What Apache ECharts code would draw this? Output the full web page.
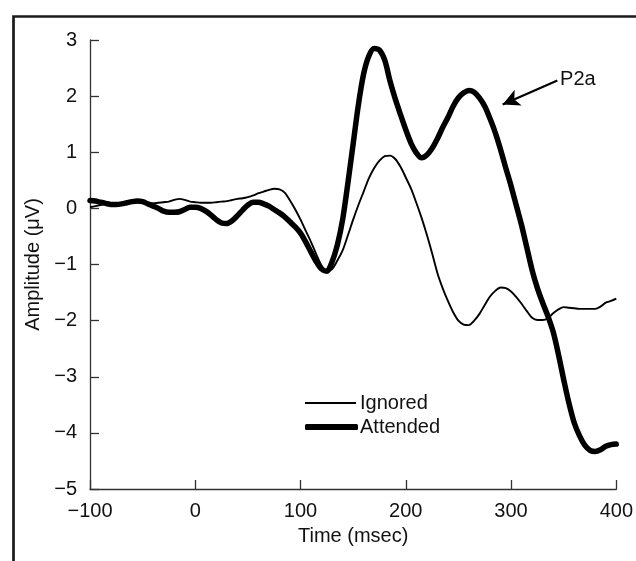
<!DOCTYPE html>
<html>
<head>
<meta charset="utf-8">
<script src="https://cdn.jsdelivr.net/npm/echarts@6/dist/echarts.min.js"></script>
<style>
html,body{margin:0;padding:0;background:#fff;}
#chart{width:636px;height:561px;}
</style>
</head>
<body>
<div id="chart"></div>
<script>
var times = [-100,-95,-90,-85,-80,-75,-70,-65,-60,-55,-50,-45,-40,-35,-30,-25,-20,-15,-10,-5,
  0,5,10,15,20,25,30,35,40,45,50,55,60,65,70,75,80,85,90,95,
  100,105,110,115,120,125,130,135,140,145,150,155,160,165,170,175,180,185,190,195,
  200,205,210,215,220,225,230,235,240,245,250,255,260,265,270,275,280,285,290,295,
  300,305,310,315,320,325,330,335,340,345,350,355,360,365,370,375,380,385,390,395,400];

var ignored = [0.02,0.04,0.06,0.08,0.09,0.09,0.09,0.10,0.10,0.11,0.10,0.09,0.09,0.10,0.11,0.12,0.15,0.17,0.15,0.12,
  0.11,0.10,0.10,0.10,0.11,0.12,0.13,0.15,0.17,0.18,0.20,0.23,0.27,0.30,0.33,0.35,0.34,0.28,0.14,-0.02,
  -0.20,-0.40,-0.60,-0.82,-1.02,-1.12,-1.08,-0.93,-0.75,-0.48,-0.20,0.06,0.30,0.54,0.72,0.85,0.93,0.94,0.88,0.74,
  0.55,0.35,0.10,-0.17,-0.47,-0.80,-1.15,-1.42,-1.65,-1.85,-2.00,-2.07,-2.08,-2.00,-1.88,-1.72,-1.57,-1.47,-1.41,-1.42,
  -1.48,-1.58,-1.70,-1.83,-1.95,-1.99,-1.99,-1.96,-1.87,-1.80,-1.76,-1.77,-1.78,-1.79,-1.79,-1.79,-1.79,-1.75,-1.68,-1.65,-1.61];

var attended = [0.14,0.13,0.11,0.09,0.07,0.07,0.08,0.10,0.12,0.13,0.12,0.08,0.04,0.00,-0.05,-0.07,-0.07,-0.06,-0.02,0.02,
  0.02,0.00,-0.05,-0.12,-0.20,-0.26,-0.27,-0.22,-0.13,-0.03,0.06,0.11,0.11,0.08,0.04,-0.02,-0.08,-0.15,-0.24,-0.33,
  -0.44,-0.60,-0.78,-0.95,-1.08,-1.12,-0.95,-0.65,-0.20,0.45,1.15,1.85,2.40,2.72,2.85,2.82,2.64,2.27,1.95,1.67,
  1.40,1.16,0.99,0.90,0.95,1.07,1.24,1.44,1.62,1.82,1.97,2.06,2.10,2.07,1.97,1.82,1.60,1.35,1.05,0.72,
  0.40,0.05,-0.30,-0.70,-1.10,-1.42,-1.68,-1.92,-2.20,-2.60,-3.05,-3.47,-3.82,-4.05,-4.22,-4.31,-4.33,-4.30,-4.24,-4.21,-4.20];

var seriesNames = ['Ignored', 'Attended'];
var xTicks = [-100, 0, 100, 200, 300, 400];
var yTicks = [-5, -4, -3, -2, -1, 0, 1, 2, 3];
var annotationText = 'P2a';
var arrowFrom = [344, 2.28];
var arrowTo = [292, 1.85];

function pairs(xs, ys) { return xs.map(function (x, i) { return [x, ys[i]]; }); }
function fmt(v) { return String(v).replace('-', '\u2212'); }

var FONT = 'Liberation Sans';
var TXT = '#111';
var FS = 20;

var chart = echarts.init(document.getElementById('chart'));
chart.setOption({
  animation: false,
  backgroundColor: '#fff',
  textStyle: { fontFamily: FONT },
  grid: { left: 90, right: 19, top: 40, bottom: 72, containLabel: false },
  graphic: [{
    type: 'rect', left: 11, top: 14, silent: true,
    shape: { width: 700, height: 620 },
    style: { fill: 'none', stroke: '#1a1a1a', lineWidth: 2.7 }
  }],
  legend: [{
    data: [seriesNames[0]], left: 300, top: 388, orient: 'vertical',
    icon: 'rect', itemWidth: 51, itemHeight: 2, itemGap: 0,
    textStyle: { fontFamily: FONT, fontSize: FS, color: TXT, padding: [0, 0, 0, -1] },
    selectedMode: false
  }, {
    data: [seriesNames[1]], left: 300, top: 412, orient: 'vertical',
    icon: 'roundRect', itemWidth: 53, itemHeight: 6, itemGap: 0,
    textStyle: { fontFamily: FONT, fontSize: FS, color: TXT, padding: [0, 0, 0, -3] },
    selectedMode: false
  }],
  xAxis: {
    type: 'value', min: xTicks[0], max: xTicks[xTicks.length - 1], interval: 100,
    name: 'Time (msec)', nameLocation: 'middle', nameGap: 37,
    nameTextStyle: { fontFamily: FONT, fontSize: FS, color: TXT },
    axisLine: { onZero: false, lineStyle: { color: '#333', width: 1.3 } },
    axisTick: { inside: true, length: 9, lineStyle: { color: '#333', width: 1.3 } },
    axisLabel: { fontFamily: FONT, fontSize: FS, color: TXT, margin: 12, formatter: fmt },
    splitLine: { show: false }
  },
  yAxis: {
    type: 'value', min: yTicks[0], max: yTicks[yTicks.length - 1], interval: 1,
    name: 'Amplitude (\u03bcV)', nameLocation: 'middle', nameGap: 42,
    nameTextStyle: { fontFamily: FONT, fontSize: FS, color: TXT },
    axisLine: { show: true, onZero: false, lineStyle: { color: '#333', width: 1.3 } },
    axisTick: { show: true, inside: true, length: 9, lineStyle: { color: '#333', width: 1.3 } },
    axisLabel: { fontFamily: FONT, fontSize: FS, color: TXT, margin: 13, formatter: fmt },
    splitLine: { show: false }
  },
  series: [{
    name: seriesNames[0], type: 'line', data: pairs(times, ignored),
    showSymbol: false, symbol: 'none', smooth: 0.3,
    color: '#000',
    lineStyle: { color: '#000', width: 1.9 }
  }, {
    name: seriesNames[1], type: 'line', data: pairs(times, attended),
    showSymbol: false, symbol: 'none', smooth: 0.3,
    color: '#000',
    lineStyle: { color: '#000', width: 5.5, cap: 'round', join: 'round' },
    markLine: {
      silent: true, animation: false,
      symbol: ['none', 'arrow'], symbolSize: [13, 17],
      itemStyle: { color: '#000' },
      lineStyle: { color: '#000', width: 2.2, type: 'solid' },
      label: { show: true, position: 'start', formatter: annotationText, distance: 3,
        fontFamily: FONT, fontSize: FS, color: TXT },
      data: [[{ coord: arrowFrom }, { coord: arrowTo }]]
    }
  }]
});
</script>
</body>
</html>
